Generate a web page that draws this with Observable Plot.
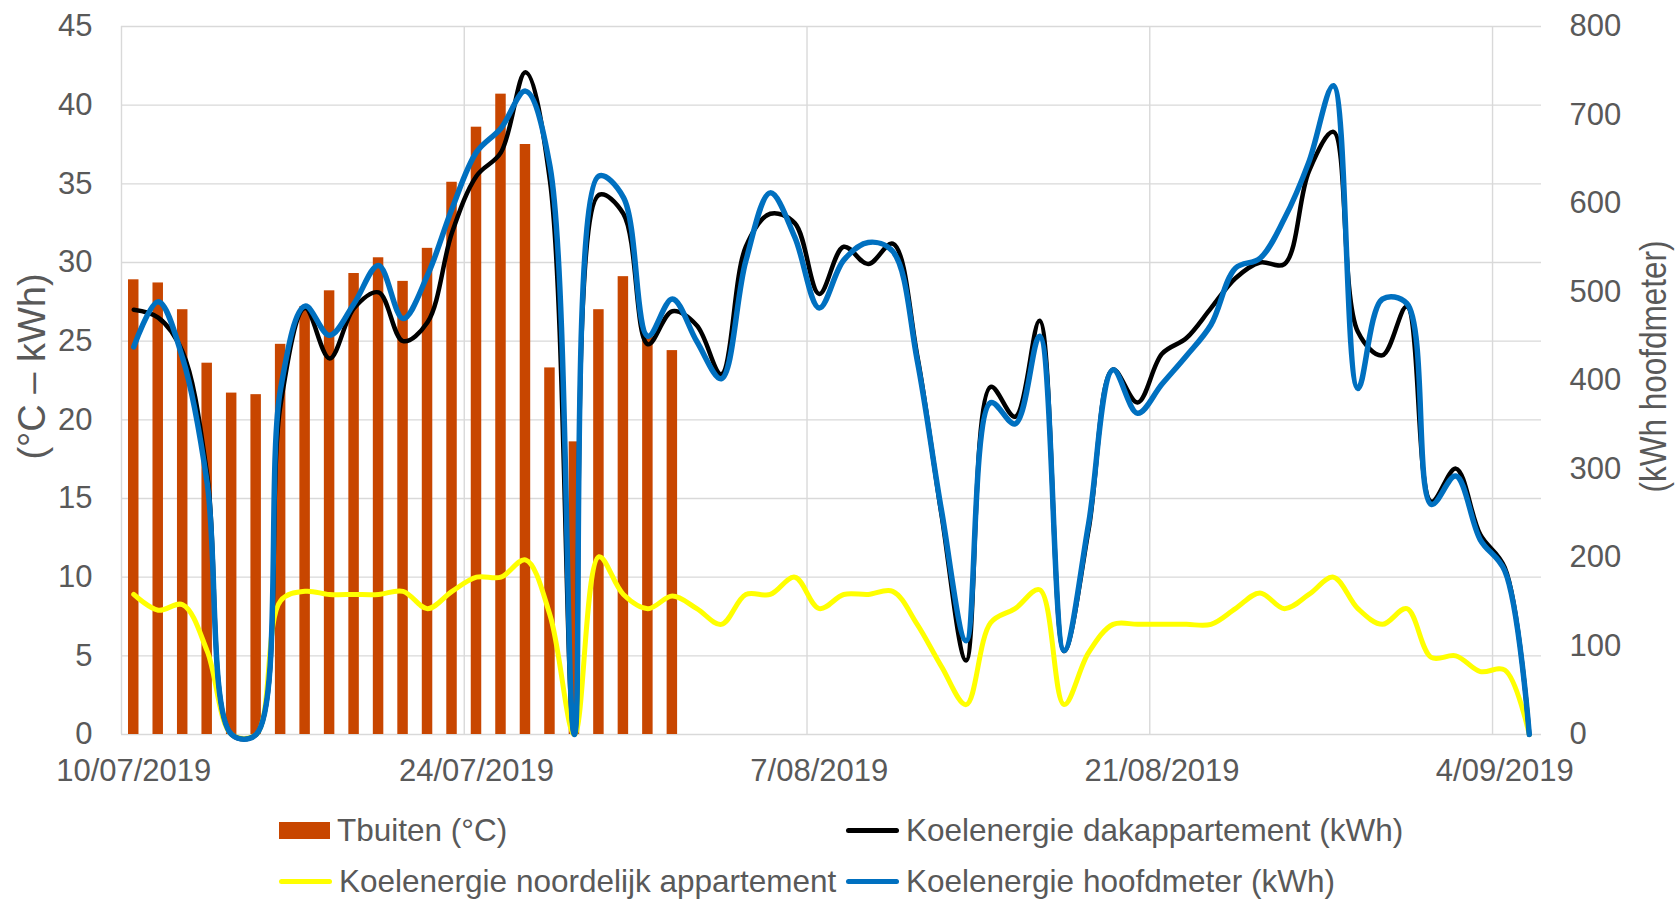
<!DOCTYPE html>
<html>
<head>
<meta charset="utf-8">
<script src="https://cdn.jsdelivr.net/npm/d3@7"></script>
<script src="https://cdn.jsdelivr.net/npm/@observablehq/plot@0.6"></script>
<style>
  html, body { margin: 0; padding: 0; background: #fff; }
  #wrap { position: relative; width: 1679px; height: 901px; font-family: "Liberation Sans", Arial, sans-serif; color: #595959; }
  .item { position: absolute; height: 40px; display: flex; align-items: center; font-size: 31.5px; white-space: nowrap; }
  .sw { display: inline-block; margin-right: 7px; }
</style>
</head>
<body>
<div id="wrap"></div>
<script>
// ---- data ----
const startDate = "2019-07-10";
const xTickDays = [0, 14, 28, 42, 56];
const xTickLabels = ["10/07/2019", "24/07/2019", "7/08/2019", "21/08/2019", "4/09/2019"];
const leftTicks = [0, 5, 10, 15, 20, 25, 30, 35, 40, 45];
const rightTicks = [0, 100, 200, 300, 400, 500, 600, 700, 800];

const tbuiten = [28.9, 28.7, 27.0, 23.6, 21.7, 21.6, 24.8, 27.2, 28.2, 29.3, 30.3, 28.8, 30.9, 35.1, 38.6, 40.7, 37.5, 23.3, 18.6, 27.0, 29.1, 25.3, 24.4];

const dakappartement = [27.0, 26.5, 24.3, 16.5, 0, 0, 21.0, 27.1, 23.9, 27.1, 28.1, 25.0, 26.2, 31.9, 35.5, 37.0, 42.1, 35.2, 0, 34.3,
  33.1, 24.8, 26.9, 26.0, 22.9, 31.0, 33.1, 32.5, 28.0, 31.0, 29.9, 31.2, 24.1, 13.9, 4.7, 22.1, 20.2, 26.3, 5.3, 13.0,
  23.2, 21.1, 24.2, 25.2, 27.1, 29.0, 30.0, 29.9, 35.8, 38.3, 25.6, 24.1, 27.2, 14.8, 16.9, 12.7, 10.6, 0];

const noordelijk = [8.9, 7.9, 8.25, 5.3, 0, 0, 8.5, 9.1, 8.9, 8.9, 8.9, 9.1, 8.0, 9.1, 10.0, 10.0, 11.1, 7.6, 0, 11.3,
  8.9, 8.0, 8.8, 8.0, 7.0, 8.9, 8.9, 10.0, 8.0, 8.9, 8.9, 9.1, 7.0, 4.3, 1.9, 7.1, 8.0, 9.2, 1.9, 5.2,
  7.0, 7.0, 7.0, 7.0, 7.0, 8.0, 9.0, 8.0, 8.9, 10.0, 8.0, 7.0, 8.0, 4.9, 5.0, 4.0, 4.1, 0];

const hoofdmeter = [438, 489, 425, 284, 0, 0, 391, 484, 451, 487, 530, 470, 519, 594, 658, 685, 727, 642, 0, 631,
  607, 450, 492, 444, 402, 535, 612, 562, 482, 536, 556, 546, 423, 252, 106, 375, 351, 450, 95, 238,
  412, 363, 396, 428, 463, 527, 538, 583, 647, 733, 391, 492, 487, 260, 292, 220, 185, 0];

const seriesNames = ["Tbuiten (°C)", "Koelenergie dakappartement (kWh)", "Koelenergie noordelijk appartement", "Koelenergie hoofdmeter (kWh)"];
const seriesColors = ["#C84600", "#000000", "#FFFF00", "#0070C0"];
const leftTitle = "(°C – kWh)";
const rightTitle = "(kWh hoofdmeter)";

// ---- helpers ----
const t0 = new Date(startDate + "T00:00:00Z");
const dayStart = i => d3.utcDay.offset(t0, i);
const dayMid = i => d3.utcHour.offset(dayStart(i), 12);
const nDays = dakappartement.length;

const bars = tbuiten.map((v, i) => ({i, v}));
const toRows = arr => arr.map((v, i) => ({i, v}));
const rightToLeft = d3.scaleLinear().domain([0, 800]).range([0, 45]);
const smooth = d3.curveCatmullRom.alpha(0.5);

const plot = Plot.plot({
  width: 1679,
  height: 800,
  marginLeft: 121,
  marginRight: 138,
  marginTop: 26,
  marginBottom: 66,
  style: {fontFamily: "'Liberation Sans', Arial, sans-serif", fontSize: "31px", color: "#595959", background: "#fff", overflow: "visible"},
  x: {type: "utc", domain: [dayStart(0), dayStart(nDays)], axis: null},
  y: {domain: [0, 45], axis: null},
  marks: [
    Plot.gridY(leftTicks, {stroke: "#d9d9d9", strokeOpacity: 1, strokeWidth: 1.4}),
    Plot.gridX(xTickDays.map(dayStart), {stroke: "#d9d9d9", strokeOpacity: 1, strokeWidth: 1.4}),
    Plot.rectY(bars, {x1: d => dayStart(d.i), x2: d => dayStart(d.i + 1), y: "v", fill: seriesColors[0], insetLeft: 7, insetRight: 7}),
    Plot.line(toRows(noordelijk), {x: d => dayMid(d.i), y: "v", stroke: seriesColors[2], strokeWidth: 5, curve: smooth}),
    Plot.line(toRows(dakappartement), {x: d => dayMid(d.i), y: "v", stroke: seriesColors[1], strokeWidth: 4.5, curve: smooth}),
    Plot.line(toRows(hoofdmeter), {x: d => dayMid(d.i), y: d => rightToLeft(d.v), stroke: seriesColors[3], strokeWidth: 5.5, curve: smooth}),
    Plot.axisX(xTickDays.map(dayMid), {tickSize: 0, tickPadding: 24, tickFormat: (d) => xTickLabels[xTickDays.indexOf(d3.utcDay.count(t0, d))], label: null}),
    Plot.axisY(leftTicks, {anchor: "left", tickSize: 0, tickPadding: 29, label: null}),
    Plot.axisY(rightTicks, {anchor: "right", y: d => rightToLeft(d), tickFormat: d => String(d), tickSize: 0, tickPadding: 28, textAnchor: "start", label: null}),
    Plot.text([leftTitle], {frameAnchor: "left", dx: -89, dy: -14, rotate: -90, textAnchor: "middle", fontSize: 38, fill: "#595959"}),
    Plot.text([rightTitle], {frameAnchor: "right", dx: 113, dy: -14, rotate: -90, textAnchor: "middle", fontSize: 36, fill: "#595959"})
  ]
});

// condense the right axis title to the narrow width of the original
d3.select(plot).selectAll("text").filter(function() { return this.textContent === rightTitle; })
  .attr("textLength", 252).attr("lengthAdjust", "spacingAndGlyphs");

const wrap = document.getElementById("wrap");
wrap.appendChild(plot);

// ---- legend (HTML, below the SVG) ----
const legendItems = [
  {name: seriesNames[0], color: seriesColors[0], kind: "rect", left: 279, cy: 830},
  {name: seriesNames[1], color: seriesColors[1], kind: "line", left: 846, cy: 830},
  {name: seriesNames[2], color: seriesColors[2], kind: "line", left: 279, cy: 881},
  {name: seriesNames[3], color: seriesColors[3], kind: "line", left: 846, cy: 881}
];
for (const it of legendItems) {
  const div = document.createElement("div");
  div.className = "item";
  div.style.left = it.left + "px";
  div.style.top = (it.cy - 20) + "px";
  const sw = document.createElement("span");
  sw.className = "sw";
  if (it.kind === "rect") {
    sw.style.width = "51px"; sw.style.height = "17px"; sw.style.background = it.color;
  } else {
    sw.style.width = "53px"; sw.style.height = "5px"; sw.style.background = it.color; sw.style.borderRadius = "3px";
  }
  const tx = document.createElement("span");
  tx.textContent = it.name;
  div.appendChild(sw);
  div.appendChild(tx);
  wrap.appendChild(div);
}
</script>
</body>
</html>
